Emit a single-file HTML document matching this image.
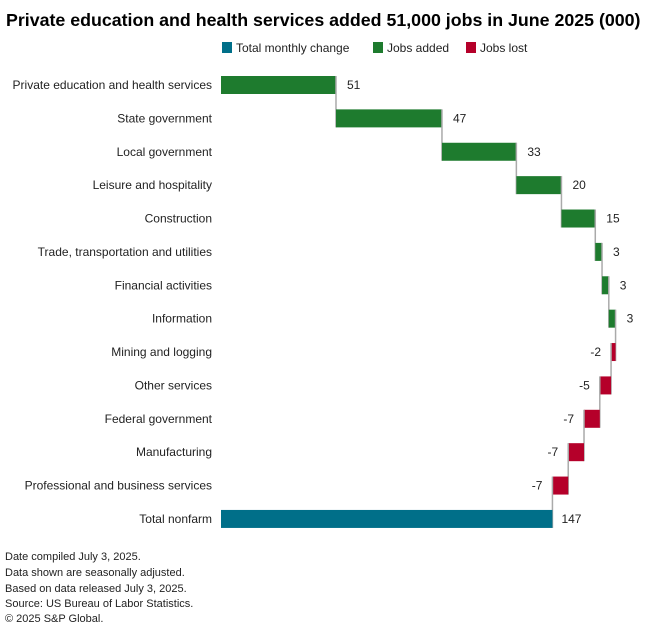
<!DOCTYPE html>
<html><head><meta charset="utf-8"><style>
body{margin:0;background:#fff;font-family:"Liberation Sans",sans-serif;}
svg text{font-family:"Liberation Sans",sans-serif;}
</style></head><body>
<svg id="chart" width="660" height="635" xmlns="http://www.w3.org/2000/svg">
<text x="6" y="26" font-size="17.8" font-weight="bold" fill="#000">Private education and health services added 51,000 jobs in June 2025 (000)</text>
<g font-size="12" fill="#222">
<rect x="222" y="42" width="10" height="11" fill="#006f89"/>
<text x="236" y="52">Total monthly change</text>
<rect x="373" y="42" width="10" height="11" fill="#1e7b2e"/>
<text x="387" y="52">Jobs added</text>
<rect x="466" y="42" width="10" height="11" fill="#b5002a"/>
<text x="480" y="52">Jobs lost</text>
</g>
<g id="plot"></g>
<g font-size="11" fill="#222">
<text x="5" y="560">Date compiled July 3, 2025.</text>
<text x="5" y="576">Data shown are seasonally adjusted.</text>
<text x="5" y="592">Based on data released July 3, 2025.</text>
<text x="5" y="607">Source: US Bureau of Labor Statistics.</text>
<text x="5" y="622">© 2025 S&amp;P Global.</text>
</g>
</svg>
<script>
const categories=["Private education and health services","State government","Local government","Leisure and hospitality","Construction","Trade, transportation and utilities","Financial activities","Information","Mining and logging","Other services","Federal government","Manufacturing","Professional and business services"];
const values=[51,47,33,20,15,3,3,3,-2,-5,-7,-7,-7];
const totalLabel="Total nonfarm";
const NS="http://www.w3.org/2000/svg";
const g=document.getElementById('plot');
const x0=221,scale=2.2547;
const xs=v=>x0+v*scale;
const y0=85,step=33.38,bh=18;
const yc=i=>y0+i*step;
function mk(t,a){const e=document.createElementNS(NS,t);for(const k in a)e.setAttribute(k,a[k]);g.appendChild(e);return e;}
let cum=0;
values.forEach((v,i)=>{
  const s=cum,e=cum+v;cum=e;
  const r=mk('rect',{x:xs(Math.min(s,e)),y:yc(i)-bh/2,width:Math.abs(v)*scale,height:bh,fill:v>=0?'#1e7b2e':'#b5002a'});
  
  
  const ln=mk('line',{x1:xs(e),x2:xs(e),y1:yc(i)-bh/2,y2:yc(i+1)+bh/2,stroke:'#aaa','stroke-width':1.5});
  
  
  const lab=mk('text',{x:v>=0?xs(e)+11:xs(e)-10,y:yc(i)+4,'font-size':12,fill:'#222','text-anchor':v>=0?'start':'end'});
  lab.textContent=v;
  
  
  const c=mk('text',{x:212,y:yc(i)+4,'font-size':12,fill:'#222','text-anchor':'end'});
  c.textContent=categories[i];
  
  
});
const n=values.length;
const tb=mk('rect',{x:x0,y:yc(n)-bh/2,width:cum*scale,height:bh,fill:'#006f89'});


const tl=mk('text',{x:xs(cum)+9,y:yc(n)+4,'font-size':12,fill:'#222'});
tl.textContent=cum;


const tc=mk('text',{x:212,y:yc(n)+4,'font-size':12,fill:'#222','text-anchor':'end'});
tc.textContent=totalLabel;


</script>
</body></html>
